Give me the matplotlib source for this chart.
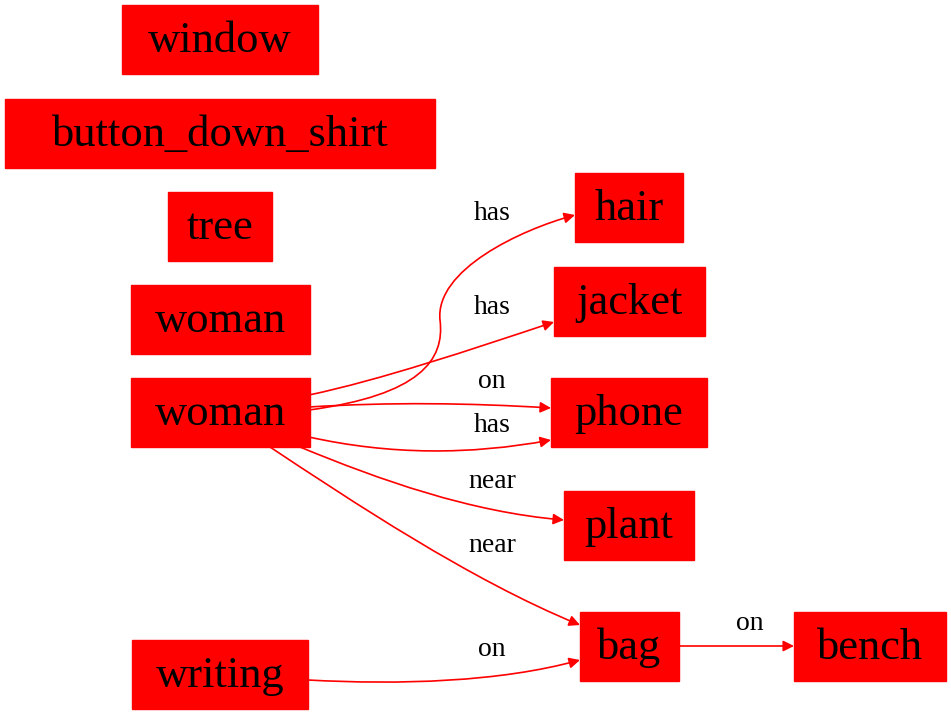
import matplotlib

matplotlib.use("Agg")
import matplotlib.pyplot as plt
from matplotlib.patches import Rectangle, FancyArrowPatch
from matplotlib.path import Path

# node name, centre x, centre y, box width (pixel space)
node_names = ["window", "button_down_shirt", "tree", "woman", "woman", "writing",
              "hair", "jacket", "phone", "plant", "bag", "bench"]
node_x = [220, 220, 220, 220, 220, 220, 629, 629, 629, 629, 629, 870]
node_y = [39, 133, 226, 319, 412, 674, 207, 301, 412, 525, 646, 646]
node_w = [196, 430, 104, 179, 179, 176, 108, 151, 156, 130, 99, 152]
NODE_H = 69

edge_labels = ["has", "has", "on", "has", "near", "near", "on", "on"]
label_x = [492, 492, 492, 492, 492, 492, 492, 750]
label_y = [213, 307, 382, 425, 482, 545, 650, 624]
edge_paths = [
    [(309, 410), (420, 395), (445, 360), (440, 320), (435, 270), (520, 230), (575, 215)],
    [(309, 395), (380, 380), (470, 350), (554, 322)],
    [(309, 407), (390, 402), (470, 403), (551, 408)],
    [(309, 437), (390, 455), (470, 455), (551, 440)],
    [(300, 447), (380, 480), (470, 512), (564, 520)],
    [(270, 447), (350, 500), (470, 580), (580, 625)],
    [(308, 680), (400, 685), (500, 682), (580, 660)],
    [(679, 646), (720, 646), (760, 646), (794, 646)],
]

fig = plt.figure(figsize=(9.51, 7.15), dpi=100)
ax = fig.add_axes([0, 0, 1, 1])
ax.set_xlim(0, 951)
ax.set_ylim(715, 0)
ax.axis("off")

for name, x, y, w in zip(node_names, node_x, node_y, node_w):
    ax.add_patch(Rectangle((x - w / 2, y - NODE_H / 2), w, NODE_H,
                           facecolor="#ff0000", edgecolor="#ff0000"))
    ax.text(x, y + 2, name, ha="center", va="center", fontsize=32,
            family="Liberation Serif", color="black")

for pts in edge_paths:
    codes = [Path.MOVETO] + [Path.CURVE4] * (len(pts) - 1)
    arrow = FancyArrowPatch(path=Path(pts, codes), arrowstyle="-|>",
                            mutation_scale=16, color="#ff0000", lw=1.2)
    ax.add_patch(arrow)

for text, x, y in zip(edge_labels, label_x, label_y):
    ax.text(x, y, text, ha="center", va="center", fontsize=20,
            family="Liberation Serif", color="black")

fig.savefig("out.png", dpi=100)
